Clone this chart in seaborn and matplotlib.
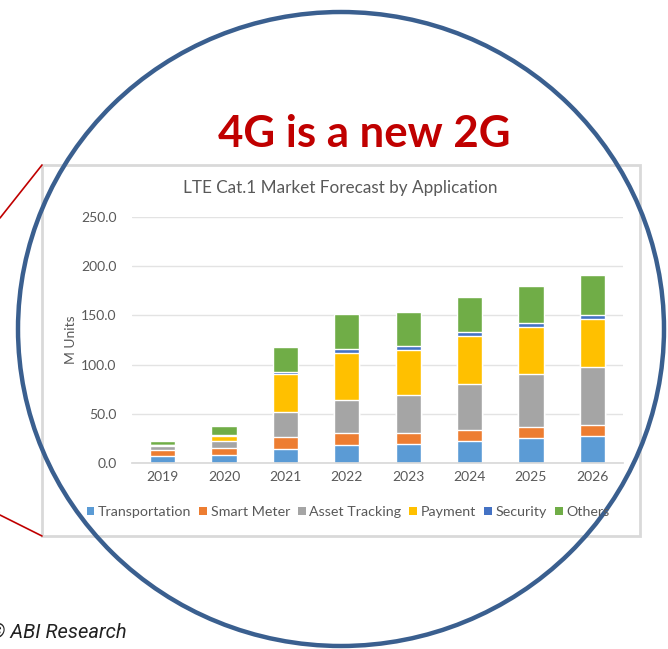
import numpy as np
import pandas as pd
import matplotlib.pyplot as plt
import seaborn as sns
from matplotlib.patches import Patch, Ellipse, Rectangle

years = ['2019', '2020', '2021', '2022', '2023', '2024', '2025', '2026']
transportation = [7.0, 8.4, 14.0, 18.6, 18.9, 22.3, 25.7, 27.4]
smart_meter = [6.0, 6.8, 12.0, 11.8, 11.8, 11.5, 10.8, 10.8]
asset_tracking = [4.0, 6.8, 26.0, 33.8, 38.5, 46.6, 54.0, 59.8]
payment = [1.0, 5.0, 38.0, 48.0, 46.0, 48.3, 47.3, 48.3]
security = [0.5, 1.0, 2.7, 3.4, 3.5, 4.0, 4.0, 4.4]
others = [3.5, 9.8, 25.0, 35.5, 34.5, 36.0, 38.0, 39.9]

series_names = ['Transportation', 'Smart Meter', 'Asset Tracking', 'Payment', 'Security', 'Others']
series_colors = ['#5B9BD5', '#ED7D31', '#A5A5A5', '#FFC000', '#4472C4', '#70AD47']

df = pd.DataFrame({'Year': years, 'Transportation': transportation, 'Smart Meter': smart_meter,
                   'Asset Tracking': asset_tracking, 'Payment': payment,
                   'Security': security, 'Others': others})
cum = df[series_names].cumsum(axis=1)
cum['Year'] = df['Year']

sns.set_theme(style='white')
plt.rcParams['font.family'] = ['Lato', 'DejaVu Sans']

W, H = 668, 649
fig = plt.figure(figsize=(W / 100, H / 100), dpi=100)

# background layer: chart frame and red connector lines
bg = fig.add_axes([0, 0, 1, 1], zorder=0)
bg.set_xlim(0, W)
bg.set_ylim(H, 0)
bg.axis('off')
bg.add_patch(Rectangle((42, 165), 598, 371, fill=False, edgecolor='#d9d9d9', linewidth=2))
bg.plot([0, 42], [218, 165], color='#c00000', linewidth=1.2)
bg.plot([0, 42], [515, 536], color='#c00000', linewidth=1.2)

# the chart: cumulative totals drawn tallest first so each layer shows as a stack
ax = fig.add_axes([132 / W, (H - 463) / H, 491 / W, 246 / H], zorder=1)
ax.set_facecolor('none')
for name, color in reversed(list(zip(series_names, series_colors))):
    sns.barplot(data=cum, x='Year', y=name, color=color, width=0.41, ax=ax,
                saturation=1, order=years)
ax.set_ylim(0, 250)
ax.set_yticks(np.arange(0, 251, 50))
ax.set_yticklabels([f'{v:.1f}' for v in np.arange(0, 251, 50)])
ax.yaxis.grid(True, color='#e3e3e3', linewidth=1)
ax.set_axisbelow(True)
for s in ['top', 'right', 'left']:
    ax.spines[s].set_visible(False)
ax.spines['bottom'].set_color('#d9d9d9')
ax.tick_params(axis='both', length=0, labelsize=10, labelcolor='#595959')
ax.tick_params(axis='y', pad=11)
ax.tick_params(axis='x', pad=6)
ax.set_xlabel('')
ax.set_ylabel('M Units', fontsize=10, color='#595959', labelpad=3)
ax.set_xlim(-0.5, 7.5)

handles = [Patch(facecolor=c, edgecolor='none', label=n) for n, c in zip(series_names, series_colors)]
fig.legend(handles=handles, loc='center', bbox_to_anchor=(348 / W, 1 - 512 / H), ncol=6,
           frameon=False, fontsize=10.3, labelcolor='#595959', handlelength=0.55,
           handleheight=0.55, handletextpad=0.25, columnspacing=0.55)

fig.text(340 / W, 1 - 188 / H, 'LTE Cat.1 Market Forecast by Application', ha='center', va='center',
         fontsize=12.3, color='#595959')

# foreground layer: circle, headline, source
fg = fig.add_axes([0, 0, 1, 1], zorder=5)
fg.set_xlim(0, W)
fg.set_ylim(H, 0)
fg.axis('off')
fg.patch.set_alpha(0)
fg.add_patch(Ellipse((341, 329), 646, 634, fill=False, edgecolor='#3A5F8F', linewidth=3.2))
fg.text(364, 134, '4G is a new 2G', ha='center', va='center', fontsize=31.5,
        fontweight='bold', color='#c00000')
fg.text(127, 633, '\u00a9 ABI Research', ha='right', va='center', fontsize=14.5,
        fontstyle='italic', color='#222222', family=['Roboto', 'DejaVu Sans'])

fig.savefig('out.png', dpi=100)
